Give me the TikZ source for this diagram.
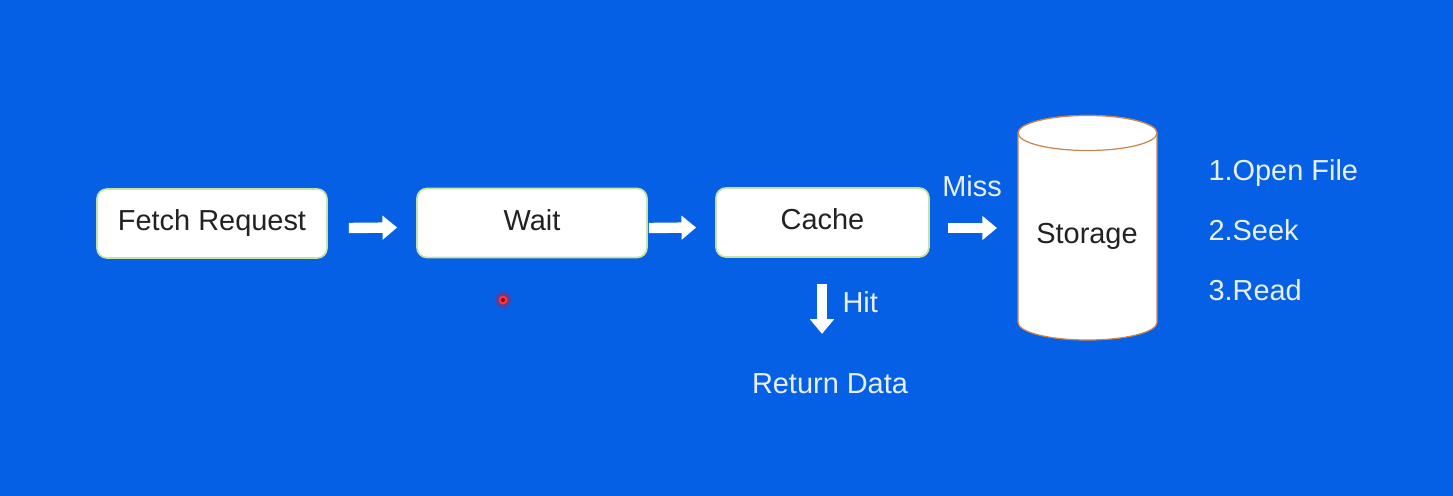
\documentclass[tikz,border=0pt]{standalone}
\usepackage{fontspec}
\setmainfont{Liberation Sans}
\usetikzlibrary{arrows.meta,calc}

\definecolor{bgblue}{RGB}{6,96,230}
\definecolor{boxedge}{RGB}{196,228,160}
\definecolor{cyledge}{RGB}{205,130,70}
\definecolor{boxtext}{RGB}{34,34,34}
\definecolor{labeltext}{RGB}{232,240,255}

\tikzset{
	every picture/.style={line width=0.75pt},
	stepbox/.style={draw=boxedge, line width=1.3pt, fill=white, rounded corners=7.5pt,
		minimum height=51.75pt, text=boxtext, font=\fontsize{21.7}{26}\selectfont,
		text height=15.6pt, text depth=4.4pt},
	flowarrow/.style={draw=white, line width=7.8pt, -{Triangle[width=17.5pt,length=11pt]}},
	bluelabel/.style={text=labeltext, font=\fontsize{21.7}{26}\selectfont, inner sep=0pt},
	cylwall/.style={draw=cyledge, line width=0.9pt, fill=white}}

\begin{document}
\begin{tikzpicture}[x=0.75pt,y=0.75pt,yscale=-1,xscale=1]
	%Background
	\fill[bgblue] (0,0) rectangle (1453,496);
	\useasboundingbox (0,0) rectangle (1453,496);

	%Shape: Boxes
	\node[stepbox, minimum width=172.5pt] (fetch) at (212,223.5) {Fetch Request};
	\node[stepbox, minimum width=172.5pt] (wait) at (532,223) {Wait};
	\node[stepbox, minimum width=159.75pt] (cache) at (822.5,222.5) {Cache};

	%Shape: Cylinder
	\draw[cylwall] (1018,133) -- (1018,322.5) arc[start angle=180, end angle=0, x radius=69.5, y radius=17.5]
		-- (1157,133) arc[start angle=0, end angle=-180, x radius=69.5, y radius=17.5] -- cycle;
	\draw[cylwall] (1087.5,133) ellipse [x radius=69.5, y radius=17.5];
	\node[text=boxtext, font=\fontsize{21.7}{26}\selectfont] (storage) at (1087,236) {Storage};
	\coordinate (cylleft) at (1018,228);

	%Straight Lines: block arrows
	\draw[flowarrow] ($(fetch.east)+(21,4.5)$) -- ($(wait.west)+(-19,4.5)$);
	\draw[flowarrow] ($(wait.east)+(1,5)$) -- ($(cache.west)+(-19,5)$);
	\draw[flowarrow] ($(cache.east)+(18,5.5)$) -- ($(cylleft)+(-21,0)$);
	\draw[flowarrow] ($(cache.south)+(-0.5,26)$) -- ($(cache.south)+(-0.5,76)$);

	% Text Node
	\node[bluelabel] (miss) at (972,186) {Miss};
	% Text Node
	\node[bluelabel, anchor=west] (hit) at (842,302) {Hit};
	% Text Node
	\node[bluelabel] (ret) at (830,384) {Return Data};
	% Text Node
	\node[bluelabel, anchor=west] (open) at (1208,173) {1.Open File};
	% Text Node
	\node[bluelabel, anchor=west] (seek) at (1208,230) {2.Seek};
	% Text Node
	\node[bluelabel, anchor=west] (read) at (1208,290) {3.Read};

	%Shape: Circle (pointer)
	\fill[red!30!bgblue] (503,300) circle [radius=8];
	\fill[red!80!white] (503,300) circle [radius=4.5];
	\fill[red!60!black] (503,300) circle [radius=2];
\end{tikzpicture}
\end{document}
